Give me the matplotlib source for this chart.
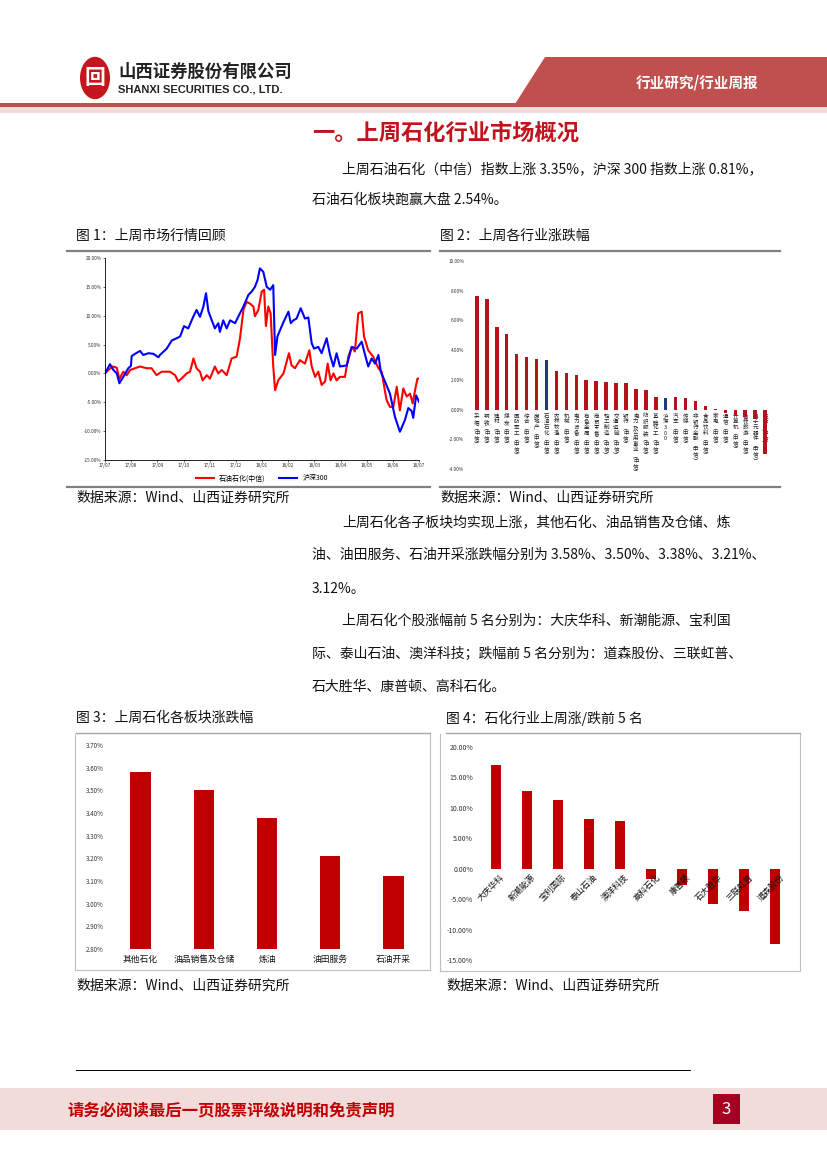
import matplotlib
matplotlib.use("Agg")
import matplotlib.pyplot as plt
from matplotlib.patches import Polygon, Rectangle, Circle
from matplotlib.lines import Line2D

plt.rcParams['font.family'] = ['Noto Sans CJK SC', 'DejaVu Sans']
plt.rcParams['axes.unicode_minus'] = False

# ---- data -------------------------------------------------------------
# fig 1: cumulative change since 17/07, x in months after 2017-07
hs300_t = [0.00, 0.19, 0.32, 0.45, 0.55, 0.70, 0.89, 0.99, 1.02, 1.15, 1.34, 1.46,
           1.66, 1.85, 2.04, 2.10, 2.36, 2.55, 2.74, 2.87, 3.02, 3.18, 3.38, 3.50,
           3.63, 3.76, 3.86, 3.95, 4.08, 4.20, 4.33, 4.39, 4.52, 4.65, 4.78, 4.97,
           5.10, 5.29, 5.48, 5.61, 5.73, 5.83, 5.92, 6.05, 6.18, 6.31, 6.43, 6.50,
           6.59, 6.69, 6.82, 7.01, 7.10, 7.20, 7.32, 7.48, 7.64, 7.77, 7.90, 7.99,
           8.15, 8.28, 8.47, 8.60, 8.73, 8.85, 8.98, 9.24, 9.43, 9.62, 9.81, 9.94,
           10.06, 10.19, 10.32, 10.45, 10.54, 10.70, 10.89, 11.08, 11.27, 11.46,
           11.59, 11.72, 11.78, 11.89, 12.00]
hs300_v = [0.0, 1.6, 0.6, 0.0, -1.7, -0.6, 0.9, 1.3, 3.0, 3.4, 3.9, 3.2,
           3.5, 3.4, 2.8, 3.2, 4.3, 5.7, 6.1, 6.4, 8.2, 7.8, 9.9, 11.0,
           9.8, 11.6, 13.9, 10.8, 9.2, 7.8, 8.7, 7.2, 9.2, 7.8, 9.2, 8.7,
           9.9, 11.6, 13.6, 14.2, 15.0, 16.2, 18.2, 17.6, 15.0, 14.5, 15.3, 3.2,
           6.4, 7.5, 8.9, 10.7, 8.7, 9.2, 9.5, 11.3, 9.5, 9.7, 5.2, 4.3,
           4.6, 3.5, 6.1, 3.2, 1.2, 3.5, 1.2, 1.4, 4.6, 4.3, 5.5, 3.2,
           1.2, 2.6, 1.7, 3.2, 0.3, -1.4, -3.5, -7.5, -10.1, -8.1,
           -6.0, -6.5, -7.7, -3.8, -4.9]
petro_t = [0.00, 0.13, 0.29, 0.45, 0.55, 0.70, 0.83, 0.96, 1.15, 1.34, 1.59, 1.78,
           1.97, 2.17, 2.48, 2.68, 2.80, 2.99, 3.12, 3.25, 3.38, 3.50, 3.63, 3.73,
           3.89, 4.01, 4.20, 4.33, 4.46, 4.65, 4.84, 5.03, 5.16, 5.29, 5.41, 5.54,
           5.67, 5.73, 5.86, 5.99, 6.08, 6.15, 6.24, 6.33, 6.43, 6.50, 6.62, 6.82,
           7.03, 7.13, 7.26, 7.45, 7.64, 7.81, 7.90, 8.03, 8.15, 8.28, 8.41, 8.51,
           8.62, 8.73, 8.85, 8.98, 9.17, 9.30, 9.43, 9.55, 9.68, 9.81, 9.90, 10.06,
           10.25, 10.45, 10.57, 10.76, 10.89, 11.02, 11.15, 11.27, 11.40, 11.53,
           11.66, 11.76, 11.85, 11.94, 12.00]
petro_v = [0.0, 0.6, 1.2, 1.0, -1.0, 0.3, -0.3, 0.6, 0.9, 1.2, 0.9, 0.9,
           -0.3, 0.3, 0.3, -0.3, -1.4, -0.6, 0.0, 0.3, 2.6, 0.9, 0.3, -1.2,
           -0.3, -0.9, 1.2, 0.0, 0.6, -0.3, 2.6, 2.9, 6.1, 11.0, 12.4, 12.1,
           11.6, 9.9, 11.0, 14.2, 14.5, 8.2, 11.6, 10.4, 1.2, -2.9, -1.2, 0.0,
           3.5, 1.4, 0.9, 2.3, 1.7, 4.0, 1.2, -0.6, 0.3, -2.0, -1.4, 1.7,
           -1.2, 0.0, -1.2, -0.6, -0.6, 2.9, 4.6, 3.8, 10.4, 10.7, 6.4, 4.0,
           2.9, 0.9, 0.3, -4.6, -5.8, -5.8, -2.3, -6.4, -2.6, -4.0,
           -3.5, -5.2, -2.9, -0.9, -0.9]
month_labels = ['17/07', '17/08', '17/09', '17/10', '17/11', '17/12', '18/01',
                '18/02', '18/03', '18/04', '18/05', '18/06', '18/07']

# fig 2: weekly change by CITIC industry (%)
ind_names = ['采掘', '钢铁', '建材', '煤炭', '国防军工', '综合', '房地产', '石油石化',
             '农林牧渔', '机械', '电力设备', '有色金属', '商贸零售', '轻工制造',
             '交通运输', '银行', '电力及公用事业', '纺织服装', '基础化工', '沪深300',
             '汽车', '传媒', '非银行金融', '食品饮料', '家电', '通信', '计算机',
             '餐饮旅游', '电子元器件', '医药']
ind_chg = [7.67, 7.43, 5.56, 5.09, 3.71, 3.53, 3.40, 3.35,
           2.58, 2.45, 2.34, 2.00, 1.91, 1.85,
           1.82, 1.76, 1.36, 1.31, 0.87, 0.81,
           0.82, 0.75, 0.56, 0.25, 0.04, -0.25, -0.40,
           -0.50, -0.65, -3.00]
ind_highlight = ['石油石化', '沪深300']

# fig 3: petrochemical sub-sectors (%)
sector_names = ['其他石化', '油品销售及仓储', '炼油', '油田服务', '石油开采']
sector_chg = [3.58, 3.50, 3.38, 3.21, 3.12]

# fig 4: top / bottom 5 stocks (%)
stock_names = ['大庆华科', '新潮能源', '宝利国际', '泰山石油', '澳洋科技',
               '高科石化', '康普顿', '石大胜华', '三联虹普', '道森股份']
stock_chg = [17.1, 12.8, 11.35, 8.2, 7.8, -1.64, -2.7, -5.8, -6.9, -12.3]

# ---- page -------------------------------------------------------------
W, H = 827, 1169
RED = '#C00000'
fig = plt.figure(figsize=(W / 100, H / 100), dpi=100)


def fx(x):
    return x / W


def fy(y):
    return 1 - y / H


def txt(x, y, s, **kw):
    kw.setdefault('va', 'center')
    fig.text(fx(x), fy(y), s, **kw)


def hline(x0, x1, y, color='#808080', lw=1.0):
    fig.add_artist(Line2D([fx(x0), fx(x1)], [fy(y), fy(y)], color=color, lw=lw,
                          transform=fig.transFigure))


def vline(x, y0, y1, color='#BFBFBF', lw=0.8):
    fig.add_artist(Line2D([fx(x), fx(x)], [fy(y0), fy(y1)], color=color, lw=lw,
                          transform=fig.transFigure))


def box_axes(left, top, right, bottom):
    return fig.add_axes([fx(left), fy(bottom), (right - left) / W, (bottom - top) / H])


# header
fig.add_artist(Polygon([[fx(545), fy(57)], [fx(827), fy(57)], [fx(827), fy(104)],
                        [fx(515), fy(104)]], closed=True, color='#C0504D',
                       transform=fig.transFigure, lw=0))
fig.add_artist(Rectangle((0, fy(107)), 1, (107 - 103) / H, color='#C0504D',
                         transform=fig.transFigure, lw=0))
fig.add_artist(Rectangle((0, fy(113)), 1, (113 - 107) / H, color='#F2DCDB',
                         transform=fig.transFigure, lw=0))
txt(697, 82, '行业研究/行业周报', color='white', fontsize=10.5, fontweight='bold', ha='center')
fig.add_artist(Circle((fx(95), fy(78)), 15 / W, color='#C4161C',
                      transform=fig.transFigure, lw=0))
txt(95, 78, '回', color='white', fontsize=15, fontweight='bold', ha='center')
txt(118, 72, '山西证券股份有限公司', fontsize=12.5, fontweight='bold', color='#222222')
txt(118, 89, 'SHANXI SECURITIES CO., LTD.', fontsize=8, fontweight='bold',
    family='Liberation Sans', color='#222222')

# section title and text
txt(312, 133, '一。上周石化行业市场概况', fontsize=16, fontweight='bold', color='#C0141C')
body = dict(fontsize=10, color='#111111')
txt(342, 170, '上周石油石化（中信）指数上涨 3.35%，沪深 300 指数上涨 0.81%，', **body)
txt(312, 200, '石油石化板块跑赢大盘 2.54%。', **body)
txt(342, 523, '上周石化各子板块均实现上涨，其他石化、油品销售及仓储、炼', **body)
txt(312, 555, '油、油田服务、石油开采涨跌幅分别为 3.58%、3.50%、3.38%、3.21%、', **body)
txt(312, 589, '3.12%。', **body)
txt(342, 621, '上周石化个股涨幅前 5 名分别为：大庆华科、新潮能源、宝利国', **body)
txt(312, 654, '际、泰山石油、澳洋科技；跌幅前 5 名分别为：道森股份、三联虹普、', **body)
txt(312, 687, '石大胜华、康普顿、高科石化。', **body)

cap = dict(fontsize=10, color='#111111')
txt(76, 236, '图 1：上周市场行情回顾', **cap)
txt(440, 236, '图 2：上周各行业涨跌幅', **cap)
txt(76, 718, '图 3：上周石化各板块涨跌幅', **cap)
txt(446, 718, '图 4：石化行业上周涨/跌前 5 名', **cap)
for x in (76, 440):
    txt(x, 498, '数据来源：Wind、山西证券研究所', **cap)
for x in (76, 446):
    txt(x, 986, '数据来源：Wind、山西证券研究所', **cap)

hline(67, 430, 251, lw=1.6)
hline(440, 780, 251, lw=1.6)
hline(67, 430, 487, lw=1.6)
hline(440, 780, 487, lw=1.6)
hline(76, 430, 733, color='#A6A6A6', lw=1.0)
hline(446, 800, 733, color='#A6A6A6', lw=1.0)
hline(75, 430, 970, color='#BFBFBF', lw=0.8)
hline(440, 800, 971, color='#BFBFBF', lw=0.8)
vline(75, 734, 970)
vline(430, 734, 970)
vline(440, 734, 971)
vline(800, 734, 971)

# ---- fig 1: line chart --------------------------------------------------
ax1 = box_axes(105, 258, 419, 460)
ax1.plot(petro_t, petro_v, color='#FF0000', lw=1.5, label='石油石化(中信)')
ax1.plot(hs300_t, hs300_v, color='#0000FF', lw=1.5, label='沪深300')
ax1.set_xlim(0, 12)
ax1.set_ylim(-15, 20)
ax1.set_xticks(range(13), labels=month_labels)
ax1.set_yticks(range(-15, 21, 5), labels=[f'{v:.2f}%' for v in range(-15, 21, 5)])
ax1.tick_params(labelsize=3.4, length=1.5, width=0.5, pad=1, colors='#333333')
for s in ('top', 'right'):
    ax1.spines[s].set_visible(False)
for s in ('left', 'bottom'):
    ax1.spines[s].set_linewidth(0.6)
ax1.legend(loc='upper center', bbox_to_anchor=(0.5, -0.055), ncol=2, frameon=False,
           fontsize=5, handlelength=2.5, columnspacing=2, borderpad=0)

# ---- fig 2: industry bars ------------------------------------------------
ax2 = box_axes(467, 261, 775, 469)
pos = list(range(len(ind_names)))
colors = ['#1F3A78' if n in ind_highlight else '#B5121B' for n in ind_names]
ax2.bar(pos, ind_chg, width=0.35, color=colors, zorder=2)
ax2.set_xlim(-1, 30)
ax2.set_ylim(-4, 10)
ax2.set_yticks(range(-4, 11, 2), labels=[f'{v:.2f}%' for v in range(-4, 11, 2)])
ax2.set_xticks([])
ax2.tick_params(labelsize=3.4, length=0, pad=2, colors='#333333')
for s in ax2.spines.values():
    s.set_visible(False)
# vertical category labels, one glyph per row
pitch = 4.05  # points between stacked glyphs
for i, n in enumerate(ind_names):
    lab = n if n == '沪深300' else n + '︵中信︶'
    for k, ch in enumerate(lab):
        ax2.annotate(ch, (i, 0), xytext=(0, -3 - k * pitch), textcoords='offset points',
                     ha='center', va='top', fontsize=4.0, color='#222222', zorder=1)

# ---- fig 3: sub-sector bars -------------------------------------------
ax3 = box_axes(109, 745, 425, 949)
ax3.bar(range(len(sector_names)), sector_chg, width=0.32, color=RED)
ax3.set_xlim(-0.5, 4.5)
ax3.set_ylim(2.8, 3.7)
ticks3 = [2.8 + 0.1 * k for k in range(10)]
ax3.set_yticks(ticks3, labels=[f'{v:.2f}%' for v in ticks3])
ax3.set_xticks(range(len(sector_names)), labels=sector_names)
ax3.tick_params(axis='y', labelsize=4.5, length=0, pad=4, colors='#333333')
ax3.tick_params(axis='x', labelsize=6.3, length=0, pad=4, colors='#111111')
for s in ax3.spines.values():
    s.set_visible(False)

# ---- fig 4: stock bars ---------------------------------------------------
ax4 = box_axes(480, 747, 791, 960)
ax4.bar(range(len(stock_names)), stock_chg, width=0.32, color=RED)
ax4.set_xlim(-0.5, 9.5)
ax4.set_ylim(-15, 20)
ax4.set_yticks(range(-15, 21, 5), labels=[f'{v:.2f}%' for v in range(-15, 21, 5)])
ax4.set_xticks([])
ax4.tick_params(axis='y', labelsize=5, length=0, pad=5, colors='#333333')
for s in ax4.spines.values():
    s.set_visible(False)
for i, n in enumerate(stock_names):
    ax4.annotate(n, (i, 0), xytext=(3, -3), textcoords='offset points', rotation=45,
                 rotation_mode='anchor', ha='right', va='top', fontsize=6,
                 color='#111111')

# ---- footer ---------------------------------------------------------------
hline(76, 690, 1070, color='#000000', lw=0.7)
fig.add_artist(Rectangle((0, fy(1130)), 1, (1130 - 1088) / H, color='#F2DCDB',
                         transform=fig.transFigure, lw=0))
txt(68, 1110, '请务必阅读最后一页股票评级说明和免责声明', fontsize=11.8,
    fontweight='bold', color=RED)
fig.add_artist(Rectangle((fx(713), fy(1124)), 27 / W, 30 / H, color='#A50021',
                         transform=fig.transFigure, lw=0))
txt(726.5, 1109, '3', fontsize=12, color='white', ha='center')

fig.savefig('out.png', dpi=100)
